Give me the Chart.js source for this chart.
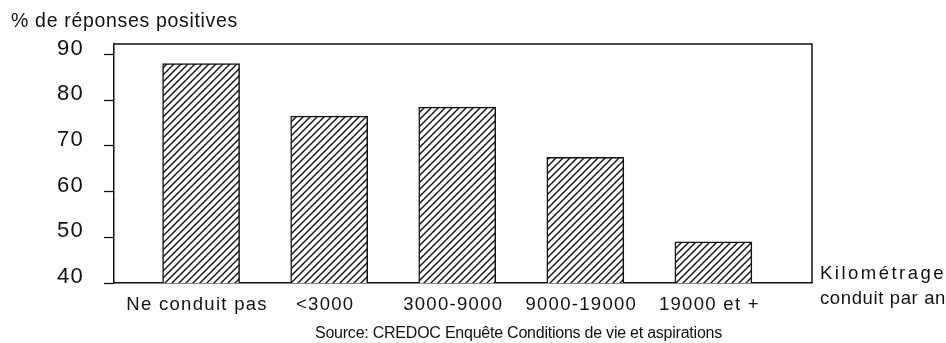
<!DOCTYPE html>
<html>
<head>
<meta charset="utf-8">
<script src="https://cdn.jsdelivr.net/npm/chart.js@4.4.0/dist/chart.umd.min.js"></script>
<style>
  html, body { margin: 0; padding: 0; background: #fff; }
</style>
</head>
<body>
<canvas id="kmChart" width="946" height="343"></canvas>
<script>
// data
const categories = ['Ne conduit pas', '<3000', '3000-9000', '9000-19000', '19000 et +'];
const positives = [88, 76.5, 78.5, 67.5, 49];
const yTicks = [40, 50, 60, 70, 80, 90];
const yTitle = '% de réponses positives';
const xTitle = ['Kilométrage', 'conduit par an'];
const sourceText = 'Source: CREDOC Enquête Conditions de vie et aspirations';

const ink = '#111';
const font = '"Liberation Sans", Arial, sans-serif';

// diagonal hatching ("/") used for the bars
function hatch() {
    const c = document.createElement('canvas');
    c.width = 7; c.height = 7;
    const g = c.getContext('2d');
    g.fillStyle = '#fdfdfd';
    g.fillRect(0, 0, 7, 7);
    g.strokeStyle = ink;
    g.lineWidth = 1.4;
    g.beginPath();
    g.moveTo(-1, 8); g.lineTo(8, -1);
    g.moveTo(-1, 1); g.lineTo(1, -1);
    g.moveTo(6, 8); g.lineTo(8, 6);
    g.stroke();
    return g.createPattern(c, 'repeat');
}

// writes text stretched to a given width, like the typeset original
function spaced(ctx, text, x, y, width) {
    ctx.letterSpacing = '0px';
    const w = ctx.measureText(text).width;
    ctx.letterSpacing = ((width - w) / text.length) + 'px';
    ctx.fillText(text, x, y);
}

const paperText = {
    id: 'paperText',
    beforeDraw(chart) {
        const ctx = chart.ctx;
        ctx.fillStyle = '#fff';
        ctx.fillRect(0, 0, chart.width, chart.height);
        ctx.letterSpacing = '1.3px';
    },
    afterDraw(chart) {
        const ctx = chart.ctx;
        const a = chart.chartArea;
        ctx.save();
        // top and right edges of the frame
        ctx.strokeStyle = ink;
        ctx.lineWidth = 1.5;
        ctx.beginPath();
        ctx.moveTo(a.left, a.top);
        ctx.lineTo(a.right, a.top);
        ctx.lineTo(a.right, a.bottom);
        ctx.stroke();

        ctx.fillStyle = ink;
        ctx.textAlign = 'left';
        ctx.textBaseline = 'alphabetic';
        ctx.font = '19.5px ' + font;
        spaced(ctx, yTitle, 11, 27, 227);
        ctx.font = '18.5px ' + font;
        spaced(ctx, xTitle[0], a.right + 8, 279, 126);
        spaced(ctx, xTitle[1], a.right + 8, 304, 126);
        ctx.font = '16px ' + font;
        spaced(ctx, sourceText, 315, 338, 407);
        ctx.restore();
    }
};

new Chart(document.getElementById('kmChart'), {
    type: 'bar',
    data: {
        datasets: [{
            label: yTitle,
            data: positives.map((v, i) => ({ x: i, y: v })),
            backgroundColor: hatch(),
            borderColor: ink,
            borderWidth: 1.5,
            barThickness: 77
        }]
    },
    options: {
        responsive: false,
        animation: false,
        layout: {
            padding: { top: 44, right: 134, left: 0, bottom: 0 }
        },
        plugins: {
            legend: { display: false },
            title: { display: false },
            tooltip: { enabled: false }
        },
        scales: {
            x: {
                type: 'linear',
                offset: false,
                min: -0.68,
                max: 4.77,
                afterBuildTicks: (scale) => {
                    scale.ticks = categories.map((c, i) => ({ value: i }));
                },
                afterFit: (scale) => { scale.height = 60; },
                grid: { display: false },
                border: { display: true, color: ink, width: 1.5 },
                ticks: {
                    autoSkip: false,
                    maxRotation: 0,
                    padding: 3,
                    labelOffset: -4,
                    color: ink,
                    font: { family: font, size: 18.5 },
                    callback: (v) => categories[v]
                }
            },
            y: {
                min: 40,
                max: 92.3,
                afterBuildTicks: (scale) => {
                    scale.ticks = yTicks.map(v => ({ value: v }));
                },
                afterFit: (scale) => { scale.width = 114; },
                grid: {
                    drawOnChartArea: false,
                    drawTicks: true,
                    tickLength: 10,
                    tickColor: ink,
                    tickWidth: 1.3
                },
                border: { display: true, color: ink, width: 1.5 },
                ticks: {
                    padding: 20,
                    labelOffset: -6,
                    color: ink,
                    font: { family: font, size: 22 }
                }
            }
        }
    },
    plugins: [paperText]
});
</script>
</body>
</html>
